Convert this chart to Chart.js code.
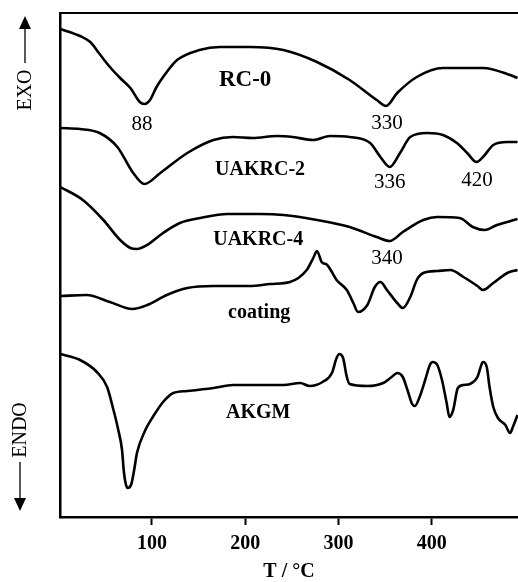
<!DOCTYPE html>
<html>
<head>
<meta charset="utf-8">
<script src="https://cdn.jsdelivr.net/npm/chart.js@4/dist/chart.umd.min.js"></script>
<style>
  html, body { margin: 0; padding: 0; background: #fff; }
  #wrap { width: 518px; height: 582px; }
</style>
</head>
<body>
<div id="wrap"><canvas id="c" width="518" height="582"></canvas></div>
<script>
// ---- Data (temperature in °C, heat flow in arbitrary offset units) ----
const xTickValues = [100, 200, 300, 400];

const tRC0 = [2, 23, 34, 44, 55, 66, 77, 87, 92, 98, 105, 116, 127, 151, 173, 194, 205, 241, 277, 312, 341, 351, 363, 384, 412, 455, 484, 492];
const yRC0 = [488, 481, 475, 463, 450, 439, 429, 415, 413, 417, 430, 445, 457, 467, 470, 470, 470, 467, 455, 437, 417, 411, 424, 440, 449, 449, 442, 439];

const tUAKRC2 = [2, 23, 44, 63, 80, 92, 109, 138, 166, 187, 208, 234, 251, 273, 291, 312, 334, 345, 355, 366, 377, 395, 412, 427, 438, 448, 455, 466, 481, 492];
const yUAKRC2 = [389, 388, 384, 370, 344, 333, 344, 364, 377, 380, 379, 381, 380, 377, 381, 380, 374, 360, 350, 364, 380, 384, 382, 374, 364, 355, 360, 372, 375, 375];

const tUAKRC4 = [2, 26, 48, 66, 77, 84, 95, 112, 130, 152, 181, 216, 241, 277, 312, 341, 355, 369, 391, 406, 430, 444, 457, 470, 492];
const yUAKRC4 = [330, 317, 297, 277, 269, 268, 272, 284, 294, 299, 303, 303, 302, 297, 290, 280, 276, 285, 297, 300, 299, 290, 287, 292, 298];

const tCoating = [2, 30, 55, 79, 95, 116, 138, 166, 205, 227, 248, 266, 273, 277, 282, 288, 293, 298, 309, 316, 321, 331, 339, 345, 352, 363, 369, 377, 384, 391, 406, 420, 434, 449, 455, 466, 481, 492];
const yCoating = [221, 222, 215, 208, 212, 222, 229, 231, 231, 233, 235, 247, 259, 266, 255, 252, 245, 237, 227, 214, 205, 212, 230, 235, 227, 214, 209, 220, 237, 244, 246, 247, 240, 231, 227, 234, 244, 247];

const tAKGM = [2, 23, 41, 52, 58, 64, 68, 70, 72, 74, 78, 81, 84, 93, 101, 112, 123, 138, 166, 187, 216, 241, 259, 269, 283, 293, 298, 301, 305, 309, 312, 331, 348, 357, 363, 369, 374, 379, 382, 387, 393, 398, 401, 406, 411, 416, 419, 423, 428, 434, 441, 449, 454, 455, 459, 462, 466, 471, 479, 484, 487, 492];
const yAKGM = [163, 157, 145, 130, 110, 87, 67, 45, 33, 29, 33, 47, 64, 87, 100, 115, 124, 126, 129, 132, 132, 132, 134, 131, 135, 144, 159, 163, 159, 140, 133, 131, 134, 140, 144, 140, 127, 113, 111, 120, 137, 152, 155, 152, 137, 114, 100, 107, 129, 132, 133, 140, 154, 155, 150, 130, 110, 99, 92, 84, 90, 102];

// Curve names and their text positions (x in °C, y in curve units)
const curveNames = ['RC-0', 'UAKRC-2', 'UAKRC-4', 'coating', 'AKGM'];
const nameX = [200, 216, 214, 215, 214];
const nameY = [437, 347, 277, 204, 104];
const nameSize = [23, 20, 20, 20, 20];

const peakTexts = ['88', '330', '336', '420', '340'];
const peakX = [89.5, 352, 355, 448.5, 352];
const peakY = [393, 394, 335, 337, 259];

// ---- Build datasets ----
function pts(t, y) { return t.map((v, i) => ({ x: v, y: y[i] })); }
const series = [[tRC0, yRC0], [tUAKRC2, yUAKRC2], [tUAKRC4, yUAKRC4], [tCoating, yCoating], [tAKGM, yAKGM]];
const datasets = series.map((s, i) => ({
  label: curveNames[i],
  data: pts(s[0], s[1]),
  borderColor: '#000',
  borderWidth: 2.6,
  pointRadius: 0,
  fill: false,
  cubicInterpolationMode: 'monotone'
}));

const SERIF = '"Liberation Serif", "DejaVu Serif", serif';

const annot = {
  id: 'annot',
  afterDraw(chart) {
    const ctx = chart.ctx;
    const xs = chart.scales.x, ys = chart.scales.y;
    const ca = chart.chartArea;
    ctx.save();
    // top frame line
    ctx.strokeStyle = '#000';
    ctx.lineWidth = 2;
    ctx.beginPath();
    ctx.moveTo(ca.left - 1, ca.top);
    ctx.lineTo(ca.right, ca.top);
    ctx.stroke();

    ctx.fillStyle = '#000';
    ctx.textAlign = 'center';
    ctx.textBaseline = 'middle';
    // curve names
    curveNames.forEach((n, i) => {
      ctx.font = 'bold ' + nameSize[i] + 'px ' + SERIF;
      ctx.fillText(n, xs.getPixelForValue(nameX[i]), ys.getPixelForValue(nameY[i]));
    });
    // peak temperatures
    ctx.font = '21px ' + SERIF;
    peakTexts.forEach((n, i) => {
      ctx.fillText(n, xs.getPixelForValue(peakX[i]), ys.getPixelForValue(peakY[i]));
    });

    // EXO / ENDO with arrows
    ctx.font = '20px ' + SERIF;
    ctx.save();
    ctx.translate(25, 90);
    ctx.rotate(-Math.PI / 2);
    ctx.fillText('EXO', 0, 1);
    ctx.restore();
    ctx.lineWidth = 1.3;
    ctx.beginPath(); ctx.moveTo(25, 63); ctx.lineTo(25, 27); ctx.stroke();
    ctx.beginPath(); ctx.moveTo(25, 16); ctx.lineTo(19, 29); ctx.lineTo(31, 29); ctx.closePath(); ctx.fill();

    ctx.save();
    ctx.translate(20, 430);
    ctx.rotate(-Math.PI / 2);
    ctx.fillText('ENDO', 0, 1);
    ctx.restore();
    ctx.beginPath(); ctx.moveTo(20, 462); ctx.lineTo(20, 499); ctx.stroke();
    ctx.beginPath(); ctx.moveTo(20, 511); ctx.lineTo(14, 498); ctx.lineTo(26, 498); ctx.closePath(); ctx.fill();
    ctx.restore();
  }
};

new Chart(document.getElementById('c'), {
  type: 'line',
  data: { datasets },
  options: {
    responsive: false,
    devicePixelRatio: 1,
    animation: false,
    layout: { padding: { top: 13, right: 0, left: 0, bottom: 0 } },
    plugins: { legend: { display: false }, tooltip: { enabled: false } },
    scales: {
      x: {
        type: 'linear',
        min: 1.5,
        max: 492.5,
        afterBuildTicks(scale) { scale.ticks = xTickValues.map(v => ({ value: v })); },
        afterFit(scale) { scale.height = 65; },
        grid: { drawOnChartArea: false, drawTicks: true, tickLength: 8, tickWidth: 2, tickColor: '#000' },
        border: { display: true, color: '#000', width: 2.5 },
        ticks: { color: '#000', font: { family: SERIF, size: 20, weight: 'bold' }, padding: 7, maxRotation: 0 },
        title: { display: true, text: 'T / °C', color: '#000', font: { family: SERIF, size: 20, weight: 'bold', lineHeight: 1 }, padding: { top: 0, bottom: 0 } }
      },
      y: {
        type: 'linear',
        min: 0,
        max: 504,
        afterFit(scale) { scale.width = 60; },
        grid: { display: false, drawTicks: false },
        border: { display: true, color: '#000', width: 2.5 },
        ticks: { display: false }
      }
    }
  },
  plugins: [annot]
});
</script>
</body>
</html>
